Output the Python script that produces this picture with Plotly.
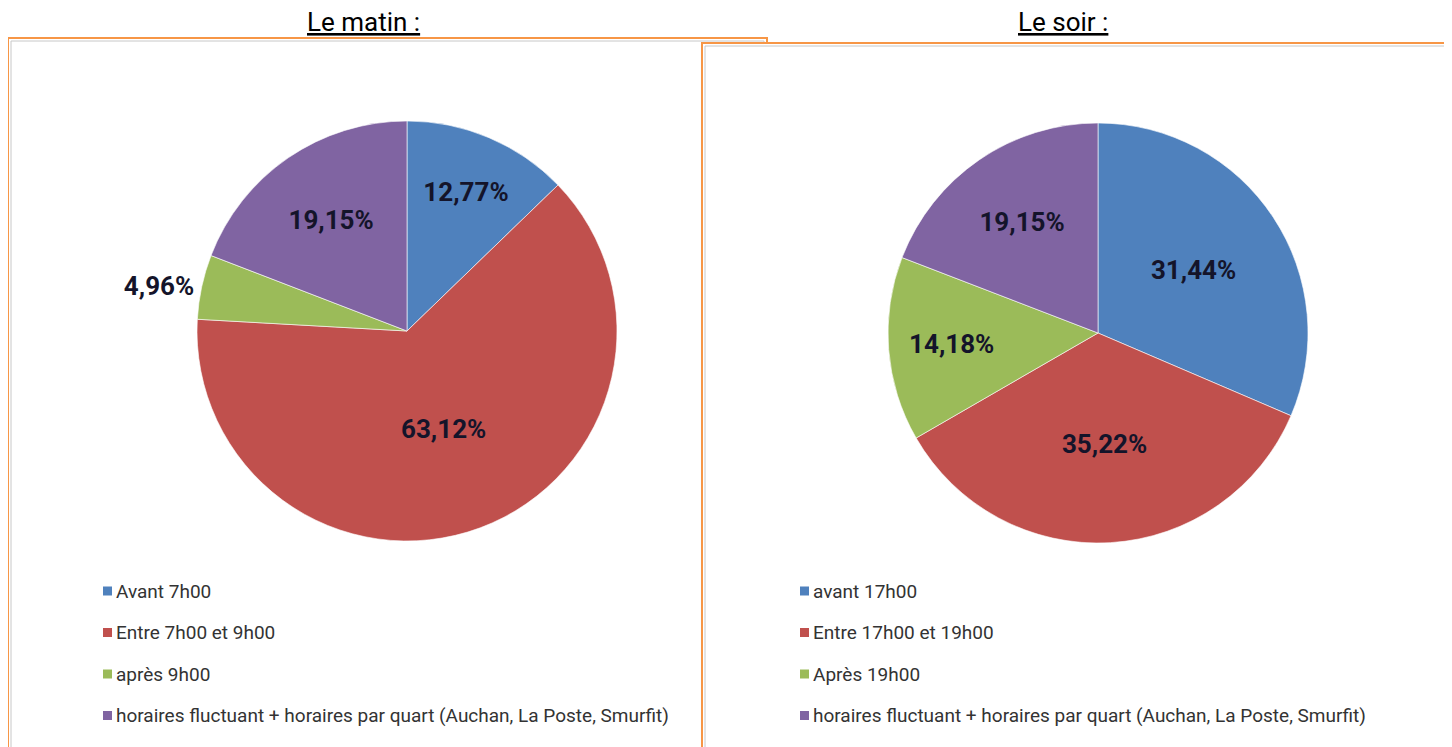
import plotly.graph_objects as go

W, H = 1452, 747
OX, OY = 8, 8  # page body margin
FW, FH = W - OX, H - OY

# ---- data ----
titles = ["Le matin :", "Le soir :"]
matin_labels = ["Avant 7h00", "Entre 7h00 et 9h00", "après 9h00",
                "horaires fluctuant + horaires par quart (Auchan, La Poste, Smurfit)"]
matin_values = [12.77, 63.12, 4.96, 19.15]
soir_labels = ["avant 17h00", "Entre 17h00 et 19h00", "Après 19h00",
               "horaires fluctuant + horaires par quart (Auchan, La Poste, Smurfit)"]
soir_values = [31.44, 35.22, 14.18, 19.15]
colors = ["#4F81BD", "#C0504D", "#9BBB59", "#8064A2"]

FONT = "Roboto, Liberation Sans, Arial, sans-serif"


def px(x):
    return (x - OX) / FW


def py(y):
    return 1 - (y - OY) / FH


def fmt(v):
    return f"{v:.2f}".replace(".", ",") + "%"


fig = go.Figure()

# frames
shapes = []
for (x0, y0, x1, y1) in [(8, 38, 767, 760), (702, 43, 1460, 760)]:
    shapes.append(dict(type="rect", xref="paper", yref="paper", layer="below",
                       x0=px(x0), x1=px(x1), y0=py(y1), y1=py(y0),
                       fillcolor="white", line=dict(color="#F79646", width=2)))
    shapes.append(dict(type="rect", xref="paper", yref="paper", layer="below",
                       x0=px(x0 + 3), x1=px(x1 - 3), y0=py(y1), y1=py(y0 + 3),
                       fillcolor="rgba(0,0,0,0)", line=dict(color="#C8C8C8", width=1)))

pies = [
    dict(labels=matin_labels, values=matin_values, cx=407, cy=331, r=210,
         pos=["inside", "inside", "outside", "inside"], lx=103, title_x=363),
    dict(labels=soir_labels, values=soir_values, cx=1098, cy=333, r=210,
         pos=["inside", "inside", "inside", "inside"], lx=800, title_x=1063),
]

annotations = []
for i, p in enumerate(pies):
    cx, cy, r = p["cx"], p["cy"], p["r"]
    fig.add_trace(go.Pie(
        labels=p["labels"], values=p["values"],
        text=[fmt(v) for v in p["values"]], textinfo="text",
        textposition=p["pos"], insidetextorientation="horizontal",
        sort=False, direction="clockwise", rotation=0,
        marker=dict(colors=colors, line=dict(color="rgba(255,255,255,0.6)", width=1)),
        textfont=dict(family=FONT, size=26, color="#14142a", weight="bold"),
        domain=dict(x=[px(cx - r), px(cx + r)], y=[py(cy + r), py(cy - r)]),
        showlegend=False, hoverinfo="label+percent",
    ))
    # title
    annotations.append(dict(xref="paper", yref="paper", x=px(p["title_x"]), y=py(22),
                            text=f"<u>{titles[i]}</u>", showarrow=False,
                            xanchor="center", yanchor="middle",
                            font=dict(family=FONT, size=26, color="black")))
    # legend
    for k, lab in enumerate(p["labels"]):
        yy = 591 + k * 41.5
        shapes.append(dict(type="rect", xref="paper", yref="paper",
                           x0=px(p["lx"]), x1=px(p["lx"] + 9), y0=py(yy + 4.5), y1=py(yy - 4.5),
                           fillcolor=colors[k], line=dict(width=0)))
        annotations.append(dict(xref="paper", yref="paper", x=px(p["lx"] + 11), y=py(yy),
                                text=lab, showarrow=False, xanchor="left", yanchor="middle",
                                font=dict(family=FONT, size=19, color="#333333")))

fig.update_layout(
    width=FW, height=FH, margin=dict(l=0, r=0, t=0, b=0),
    paper_bgcolor="white", plot_bgcolor="white",
    shapes=shapes, annotations=annotations,
)

fig.write_html("out.html")
